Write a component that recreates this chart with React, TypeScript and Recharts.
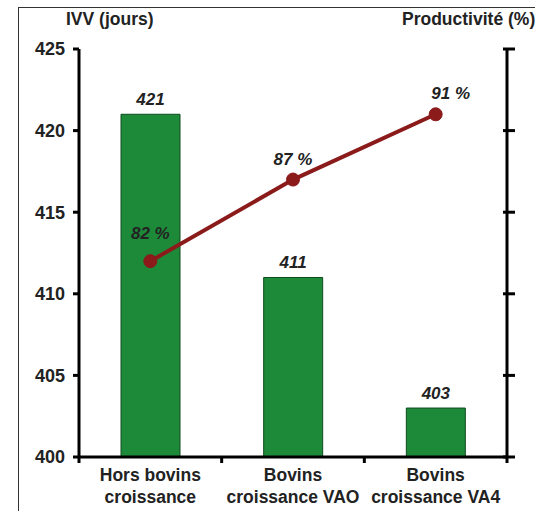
import { Bar, ComposedChart, LabelList, Line, XAxis, YAxis } from "recharts";

const categories = ["Hors bovins\ncroissance", "Bovins\ncroissance VAO", "Bovins\ncroissance VA4"];
const ivvJours = [421, 411, 403];
const productivite = [82, 87, 91];
const leftTicks = [400, 405, 410, 415, 420, 425];
const rightTicks = [70, 75, 80, 85, 90, 95];

const data = categories.map((name, i) => ({
  name,
  ivv: ivvJours[i],
  prod: productivite[i],
}));

const font = "'Liberation Sans', Arial, sans-serif";
const W = 535;
const H = 511;
const plotLeft = 79;
const plotRight = 507;
const band = (plotRight - plotLeft) / categories.length;

function CategoryTick(props: any) {
  const { x, y, payload, index } = props;
  const lines = String(payload.value).split("\n");
  const axisY = y - 8;
  return (
    <g>
      <line x1={x - band / 2} x2={x - band / 2} y1={axisY} y2={axisY + 6} stroke="#000" strokeWidth={3} />
      {index === categories.length - 1 && (
        <line x1={x + band / 2} x2={x + band / 2} y1={axisY} y2={axisY + 6} stroke="#000" strokeWidth={3} />
      )}
      <text x={x} y={axisY + 24} textAnchor="middle" fontFamily={font} fontWeight="bold" fontSize={17.5} fill="#222">
        {lines.map((l, i) => (
          <tspan key={i} x={x} dy={i === 0 ? 0 : 22}>
            {l}
          </tspan>
        ))}
      </text>
    </g>
  );
}

function RightTick(props: any) {
  const { x, y } = props;
  return <line x1={x - 4} x2={x + 8} y1={y} y2={y} stroke="#000" strokeWidth={3} />;
}

function ProdLabel(props: any) {
  const { x, y, value, index } = props;
  const dx = index === 2 ? 15 : 0;
  const dy = index === 0 ? -28 : -21;
  return (
    <text
      x={x + dx}
      y={y + dy + 6}
      textAnchor="middle"
      fontFamily={font}
      fontWeight="bold"
      fontStyle="italic"
      fontSize={17}
      fill="#222"
    >
      {value} %
    </text>
  );
}

export default function App() {
  return (
    <div style={{ position: "absolute", left: 0, top: 0, width: W, height: H, background: "#fff" }}>
      <div
        style={{
          position: "absolute",
          left: 18,
          top: 7,
          width: W - 18,
          height: H - 7,
          borderTop: "1.5px solid #333",
          borderLeft: "1.5px solid #333",
        }}
      />
      <div
        style={{
          position: "absolute",
          left: 66,
          top: 9,
          fontFamily: font,
          fontWeight: "bold",
          fontSize: 17.5,
          color: "#222",
        }}
      >
        IVV (jours)
      </div>
      <div
        style={{
          position: "absolute",
          left: 402,
          top: 9,
          fontFamily: font,
          fontWeight: "bold",
          fontSize: 17.5,
          color: "#222",
          whiteSpace: "nowrap",
        }}
      >
        Productivité (%)
      </div>
      <ComposedChart
        width={W}
        height={H}
        data={data}
        margin={{ top: 49, right: 0, left: 0, bottom: 0 }}
        style={{ position: "absolute", left: 0, top: 0 }}
      >
        <XAxis
          dataKey="name"
          height={54}
          axisLine={{ stroke: "#000", strokeWidth: 3 }}
          tickLine={false}
          tick={<CategoryTick />}
          interval={0}
        />
        <YAxis
          yAxisId="left"
          width={plotLeft}
          domain={[400, 425]}
          ticks={leftTicks}
          axisLine={{ stroke: "#000", strokeWidth: 3 }}
          tickLine={{ stroke: "#000", strokeWidth: 3 }}
          tickSize={6}
          tickMargin={8}
          tick={{ fontFamily: font, fontWeight: "bold", fontSize: 18, fill: "#222" }}
        />
        <YAxis
          yAxisId="right"
          orientation="right"
          width={W - plotRight}
          domain={[70, 95]}
          ticks={rightTicks}
          axisLine={{ stroke: "#000", strokeWidth: 3 }}
          tickLine={false}
          tickSize={0}
          tickMargin={0}
          tick={<RightTick />}
        />
        <Bar yAxisId="left" dataKey="ivv" barSize={59} fill="#1d8a3a" stroke="#0f4a1f" strokeWidth={1} isAnimationActive={false}>
          <LabelList
            dataKey="ivv"
            position="top"
            offset={9}
            style={{ fontFamily: font, fontWeight: "bold", fontStyle: "italic", fontSize: 17, fill: "#222" }}
          />
        </Bar>
        <Line
          yAxisId="right"
          dataKey="prod"
          stroke="#8b1a1a"
          strokeWidth={4}
          dot={{ r: 6.5, fill: "#8b1a1a", stroke: "#8b1a1a", strokeWidth: 1 }}
          activeDot={false}
          isAnimationActive={false}
        >
          <LabelList dataKey="prod" content={<ProdLabel />} />
        </Line>
      </ComposedChart>
    </div>
  );
}
